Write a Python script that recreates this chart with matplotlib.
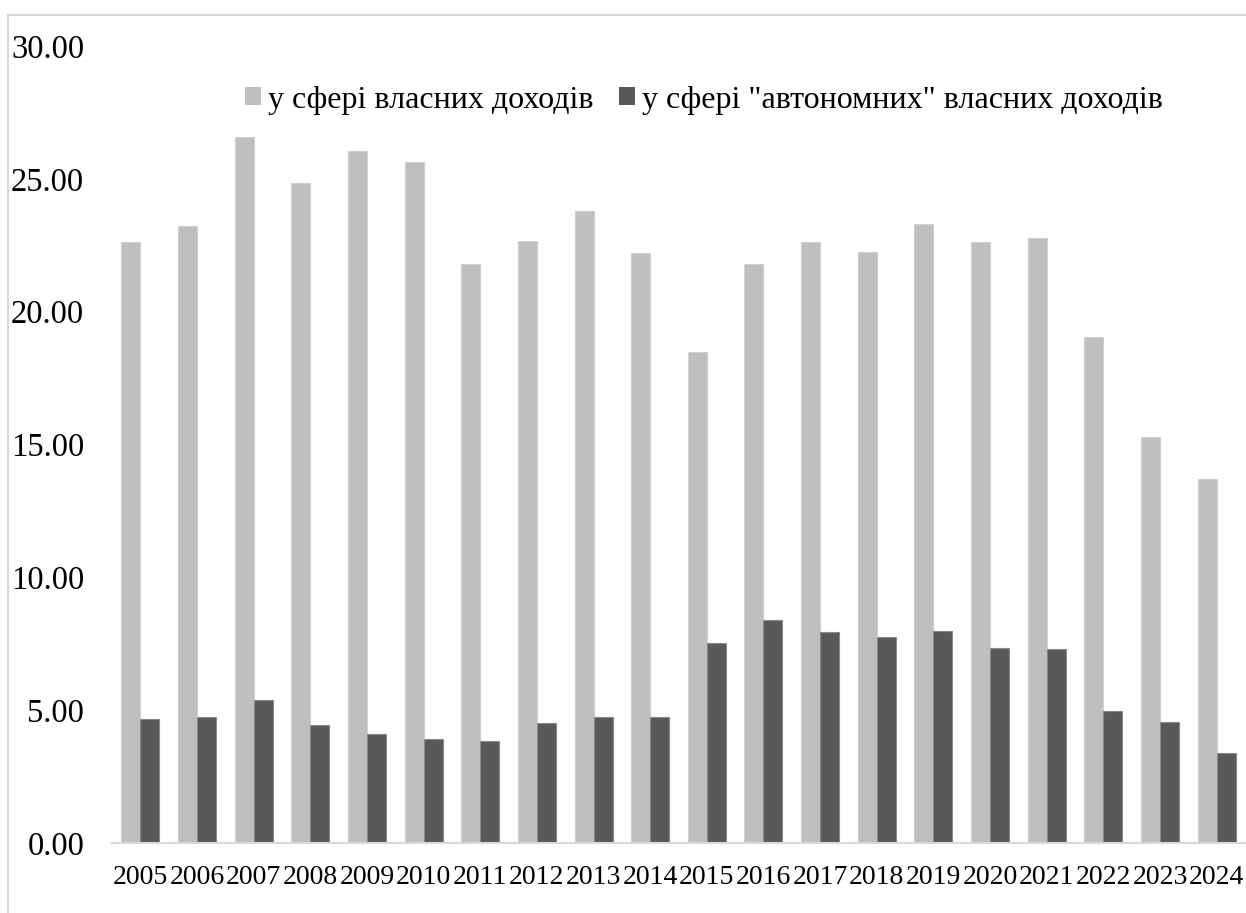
import matplotlib.pyplot as plt
from matplotlib.patches import Rectangle, Patch
import numpy as np

years = ["2005", "2006", "2007", "2008", "2009", "2010", "2011", "2012", "2013", "2014",
         "2015", "2016", "2017", "2018", "2019", "2020", "2021", "2022", "2023", "2024"]
own_income = [22.62, 23.22, 26.56, 24.83, 26.04, 25.63, 21.78, 22.66, 23.79, 22.19,
              18.48, 21.80, 22.61, 22.26, 23.30, 22.62, 22.77, 19.05, 15.28, 13.70]
autonomous_income = [4.67, 4.74, 5.38, 4.43, 4.11, 3.90, 3.85, 4.50, 4.74, 4.74,
                     7.52, 8.38, 7.95, 7.74, 7.99, 7.34, 7.29, 4.98, 4.54, 3.38]
labels = ["у сфері власних доходів", "у сфері \"автономних\" власних доходів"]

plt.rcParams["font.family"] = ["Liberation Serif", "DejaVu Serif"]

W, H = 1246, 913
fig = plt.figure(figsize=(W / 100, H / 100), dpi=100)
ax = fig.add_axes([112 / W, 1 - 843 / H, 1133 / W, (843 - 46) / H])

x = np.arange(len(years))
width = 0.335
ax.bar(x - width / 2, own_income, width, color="#BFBFBF", edgecolor="#D0D0D0", linewidth=0.8)
ax.bar(x + width / 2, autonomous_income, width, color="#595959", edgecolor="#8A8A8A", linewidth=0.8)

ax.set_xlim(-0.5, len(years) - 0.5)
ax.set_ylim(0, 30)
ax.set_yticks(np.arange(0, 31, 5))
ax.set_yticklabels([f"{v:.2f}" for v in np.arange(0, 31, 5)], fontsize=23.5)
ax.set_xticks(x)
ax.set_xticklabels(years, fontsize=20)
ax.tick_params(axis="y", length=0, pad=20)
ax.tick_params(axis="x", length=0, pad=16)

for side in ["top", "right", "left"]:
    ax.spines[side].set_visible(False)
ax.spines["bottom"].set_color("#D9D9D9")
ax.spines["bottom"].set_linewidth(1.5)

handles = [Patch(facecolor="#BFBFBF"), Patch(facecolor="#595959")]
fig.legend(handles, labels, loc="center left", bbox_to_anchor=(245 / W, 1 - 100 / H),
           ncol=2, frameon=False, fontsize=23, handlelength=0.5, handleheight=0.5,
           handletextpad=0.22, columnspacing=0.8, borderpad=0, borderaxespad=0)

# chart area border
fig.patches.append(Rectangle((8 / W, -0.05), 1.1, 1 - 15 / H + 0.05, transform=fig.transFigure,
                             fill=False, edgecolor="#D9D9D9", linewidth=1.5))

fig.savefig("out.png", dpi=100, facecolor="white")
